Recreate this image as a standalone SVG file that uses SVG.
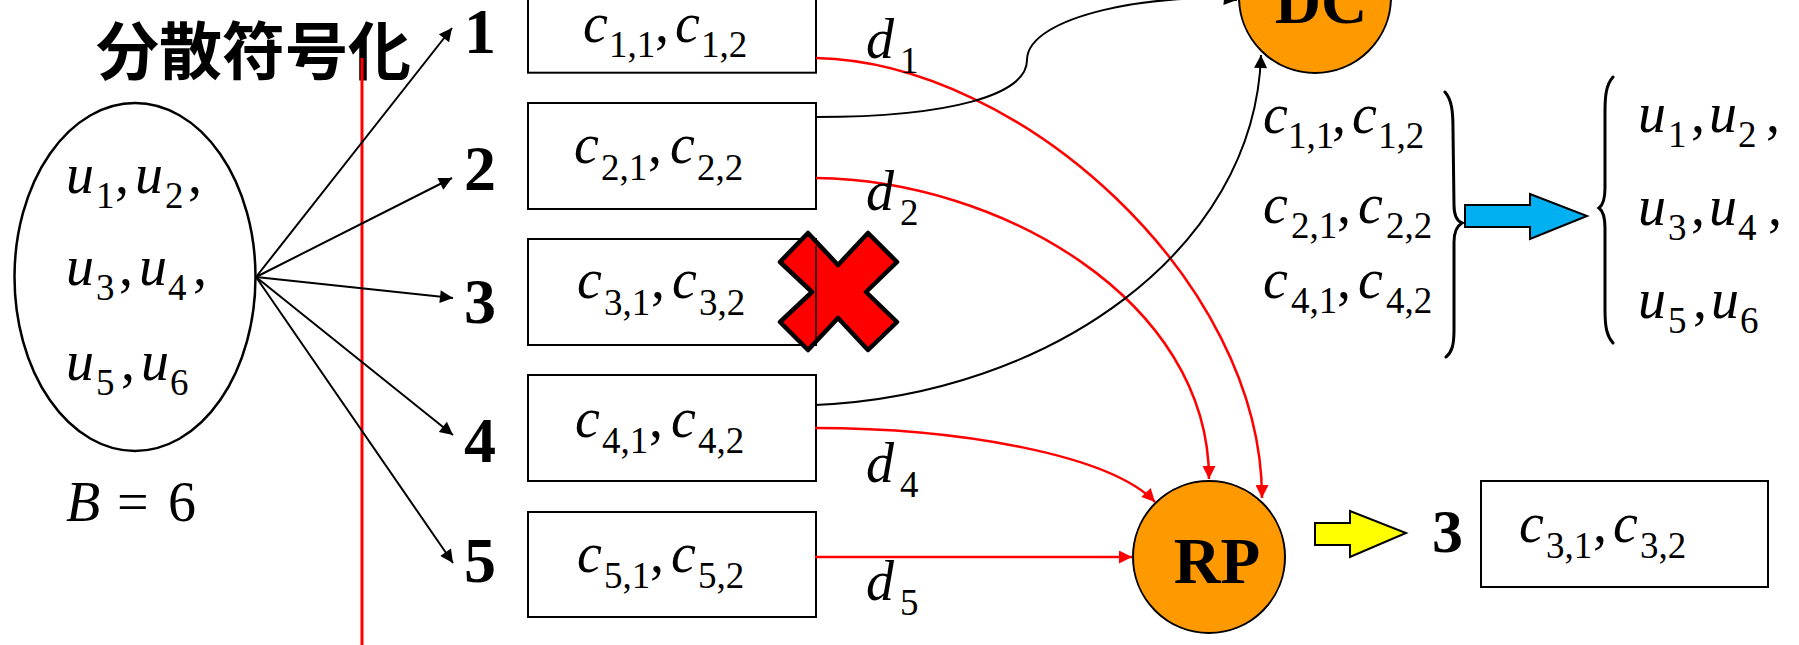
<svg xmlns="http://www.w3.org/2000/svg" width="1799" height="645" viewBox="0 0 1799 645">
<style>
.box{fill:#fff;stroke:#000;stroke-width:2}
.blk{fill:none;stroke:#000;stroke-width:2}
.red{fill:none;stroke:#f00;stroke-width:2.5}
.node{fill:#FF9900;stroke:#000;stroke-width:2}
.brace{fill:none;stroke:#000;stroke-width:3;stroke-linecap:round}
</style>
<defs>
<marker id="ab" viewBox="0 0 10 10" refX="10" refY="5" markerWidth="17" markerHeight="13" markerUnits="userSpaceOnUse" orient="auto"><path d="M0,0 L10,5 L0,10 z" fill="#000"/></marker>
<marker id="ar" viewBox="0 0 10 10" refX="10" refY="5" markerWidth="17" markerHeight="13" markerUnits="userSpaceOnUse" orient="auto"><path d="M0,0 L10,5 L0,10 z" fill="#f00"/></marker>
</defs>
<rect width="1799" height="645" fill="#fff"/>

<text x="96" y="74" font-family="'Noto Sans CJK JP',sans-serif" font-size="63" font-weight="bold">分散符号化</text>

<g id="source">
<ellipse cx="135" cy="277" rx="120.5" ry="174" fill="#fff" stroke="#000" stroke-width="2.5"/>
<g font-family="Liberation Serif" font-style="italic" font-size="56">
<text y="193"><tspan x="66">u</tspan><tspan font-style="normal" font-size="37" x="96" y="208">1</tspan><tspan font-style="normal" x="115" y="193">,</tspan><tspan x="135">u</tspan><tspan font-style="normal" font-size="37" x="165" y="208">2</tspan><tspan font-style="normal" x="188" y="193">,</tspan></text>
<text y="285"><tspan x="66">u</tspan><tspan font-style="normal" font-size="37" x="96" y="300">3</tspan><tspan font-style="normal" x="119" y="285">,</tspan><tspan x="139">u</tspan><tspan font-style="normal" font-size="37" x="168" y="300">4</tspan><tspan font-style="normal" x="193" y="285">,</tspan></text>
<text y="380"><tspan x="66">u</tspan><tspan font-style="normal" font-size="37" x="96" y="395">5</tspan><tspan font-style="normal" x="121" y="380">,</tspan><tspan x="141">u</tspan><tspan font-style="normal" font-size="37" x="170" y="395">6</tspan></text>
<text y="521"><tspan x="66">B</tspan><tspan font-style="normal" x="117">=</tspan><tspan font-style="normal" x="168">6</tspan></text>
</g>
</g>

<line x1="362" y1="58" x2="362" y2="645" stroke="#f00" stroke-width="3"/>

<g id="fan">
<line class="blk" x1="256" y1="277" x2="452" y2="28" marker-end="url(#ab)"/>
<line class="blk" x1="256" y1="277" x2="452" y2="178" marker-end="url(#ab)"/>
<line class="blk" x1="256" y1="277" x2="453" y2="298" marker-end="url(#ab)"/>
<line class="blk" x1="256" y1="277" x2="453" y2="435" marker-end="url(#ab)"/>
<line class="blk" x1="256" y1="277" x2="453" y2="563" marker-end="url(#ab)"/>
</g>

<g id="labels" font-family="Liberation Serif" font-weight="bold" font-size="64">
<text x="464" y="53">1</text>
<text x="464" y="190">2</text>
<text x="464" y="323">3</text>
<text x="464" y="462">4</text>
<text x="464" y="582">5</text>
</g>

<g font-family="Liberation Serif" font-style="italic" font-size="56">
<g id="box1"><rect class="box" x="528" y="-34" width="288" height="106.7"/>
<text y="42"><tspan x="583">c</tspan><tspan font-style="normal" font-size="37" x="609" y="57">1,1</tspan><tspan font-style="normal" x="655" y="42">,</tspan><tspan x="675">c</tspan><tspan font-style="normal" font-size="37" x="701" y="57">1,2</tspan></text></g>
<g id="box2"><rect class="box" x="528" y="103" width="288" height="106"/>
<text y="163"><tspan x="574">c</tspan><tspan font-style="normal" font-size="37" x="601" y="180">2,1</tspan><tspan font-style="normal" x="648" y="163">,</tspan><tspan x="670">c</tspan><tspan font-style="normal" font-size="37" x="697" y="180">2,2</tspan></text></g>
<g id="box3"><rect class="box" x="528" y="239" width="288" height="106"/>
<text y="298"><tspan x="577">c</tspan><tspan font-style="normal" font-size="37" x="604" y="315">3,1</tspan><tspan font-style="normal" x="651" y="298">,</tspan><tspan x="672">c</tspan><tspan font-style="normal" font-size="37" x="699" y="315">3,2</tspan></text></g>
<g id="box4"><rect class="box" x="528" y="375" width="288" height="106"/>
<text y="437"><tspan x="575">c</tspan><tspan font-style="normal" font-size="37" x="602" y="453">4,1</tspan><tspan font-style="normal" x="649" y="437">,</tspan><tspan x="671">c</tspan><tspan font-style="normal" font-size="37" x="698" y="453">4,2</tspan></text></g>
<g id="box5"><rect class="box" x="528" y="512" width="288" height="105"/>
<text y="572"><tspan x="577">c</tspan><tspan font-style="normal" font-size="37" x="604" y="588">5,1</tspan><tspan font-style="normal" x="650" y="572">,</tspan><tspan x="671">c</tspan><tspan font-style="normal" font-size="37" x="698" y="588">5,2</tspan></text></g>
</g>

<g id="cross">
<polygon points="808,233 838,265 868,233 897,262 866,292 897,322 868,350 838,318 808,350 780,322 812,292 780,262" fill="#f00" stroke="#000" stroke-width="4.5" stroke-linejoin="round"/>
<line x1="816" y1="246" x2="816" y2="340" stroke="#000" stroke-width="1.5"/>
</g>

<g id="connectors">
<path class="red" d="M816,58 C1020,62 1262,280 1262,498" marker-end="url(#ar)"/>
<path class="red" d="M816,178 C1000,180 1209,300 1209,479" marker-end="url(#ar)"/>
<path class="red" d="M815,428 C960,428 1110,455 1155,502" marker-end="url(#ar)"/>
<path class="red" d="M815,557 L1132,557" marker-end="url(#ar)"/>
<path class="blk" d="M816,117 C950,117 1027,95 1027,60 C1027,15 1160,-8 1237,0" marker-end="url(#ab)"/>
<path class="blk" d="M815,405 C1050,395 1255,250 1261,55" marker-end="url(#ab)"/>
</g>

<g id="d-labels" font-family="Liberation Serif" font-style="italic" font-size="56">
<text y="58"><tspan x="866">d</tspan><tspan font-style="normal" font-size="37" x="900" y="73">1</tspan></text>
<text y="210"><tspan x="866">d</tspan><tspan font-style="normal" font-size="37" x="900" y="225">2</tspan></text>
<text y="482"><tspan x="866">d</tspan><tspan font-style="normal" font-size="37" x="900" y="497">4</tspan></text>
<text y="600"><tspan x="866">d</tspan><tspan font-style="normal" font-size="37" x="900" y="615">5</tspan></text>
</g>

<g id="DC"><circle class="node" cx="1315" cy="-3" r="76"/><text x="1321" y="23" font-family="Liberation Serif" font-weight="bold" font-size="64" text-anchor="middle">DC</text></g>
<g id="RP"><circle class="node" cx="1209" cy="557" r="76"/><text x="1217" y="583" font-family="Liberation Serif" font-weight="bold" font-size="65" text-anchor="middle">RP</text></g>

<g id="decoded" font-family="Liberation Serif" font-style="italic" font-size="56">
<text y="133"><tspan x="1263">c</tspan><tspan font-style="normal" font-size="37" x="1288" y="148">1,1</tspan><tspan font-style="normal" x="1332" y="133">,</tspan><tspan x="1352">c</tspan><tspan font-style="normal" font-size="37" x="1378" y="148">1,2</tspan></text>
<text y="223"><tspan x="1263">c</tspan><tspan font-style="normal" font-size="37" x="1291" y="238">2,1</tspan><tspan font-style="normal" x="1337" y="223">,</tspan><tspan x="1358">c</tspan><tspan font-style="normal" font-size="37" x="1386" y="238">2,2</tspan></text>
<text y="298"><tspan x="1263">c</tspan><tspan font-style="normal" font-size="37" x="1291" y="313">4,1</tspan><tspan font-style="normal" x="1337" y="298">,</tspan><tspan x="1358">c</tspan><tspan font-style="normal" font-size="37" x="1386" y="313">4,2</tspan></text>
<path class="brace" d="M1445,92 C1452,100 1453,112 1453,130 L1454,205 C1454,215 1457,221 1462,223 C1457,226 1454,232 1454,242 L1454,330 C1454,345 1452,352 1446,357"/>
<polygon points="1465,205 1530,205 1530,194 1587,216 1530,239 1530,227 1465,227" fill="#00B0F0" stroke="#000" stroke-width="2"/>
<path class="brace" d="M1613,77 C1606,85 1605,96 1605,112 L1605,188 C1605,199 1603,205 1599,208 C1603,211 1605,218 1605,228 L1605,310 C1605,328 1607,336 1613,343"/>
<text y="132"><tspan x="1638">u</tspan><tspan font-style="normal" font-size="37" x="1668" y="147">1</tspan><tspan font-style="normal" x="1691" y="132">,</tspan><tspan x="1709">u</tspan><tspan font-style="normal" font-size="37" x="1738" y="147">2</tspan><tspan font-style="normal" x="1766" y="132">,</tspan></text>
<text y="225"><tspan x="1638">u</tspan><tspan font-style="normal" font-size="37" x="1668" y="240">3</tspan><tspan font-style="normal" x="1691" y="225">,</tspan><tspan x="1709">u</tspan><tspan font-style="normal" font-size="37" x="1738" y="240">4</tspan><tspan font-style="normal" x="1768" y="225">,</tspan></text>
<text y="318"><tspan x="1638">u</tspan><tspan font-style="normal" font-size="37" x="1668" y="333">5</tspan><tspan font-style="normal" x="1693" y="318">,</tspan><tspan x="1711">u</tspan><tspan font-style="normal" font-size="37" x="1740" y="333">6</tspan></text>
</g>

<g id="recovered">
<polygon points="1315,523 1350,523 1350,511 1406,533 1350,557 1350,545 1315,545" fill="#ff0" stroke="#000" stroke-width="2"/>
<text x="1432" y="552" font-family="Liberation Serif" font-weight="bold" font-size="62">3</text>
<rect class="box" x="1481" y="481" width="287" height="106"/>
<text y="542" font-family="Liberation Serif" font-style="italic" font-size="56"><tspan x="1519">c</tspan><tspan font-style="normal" font-size="37" x="1546" y="558">3,1</tspan><tspan font-style="normal" x="1593" y="542">,</tspan><tspan x="1613">c</tspan><tspan font-style="normal" font-size="37" x="1640" y="558">3,2</tspan></text>
</g>
</svg>
